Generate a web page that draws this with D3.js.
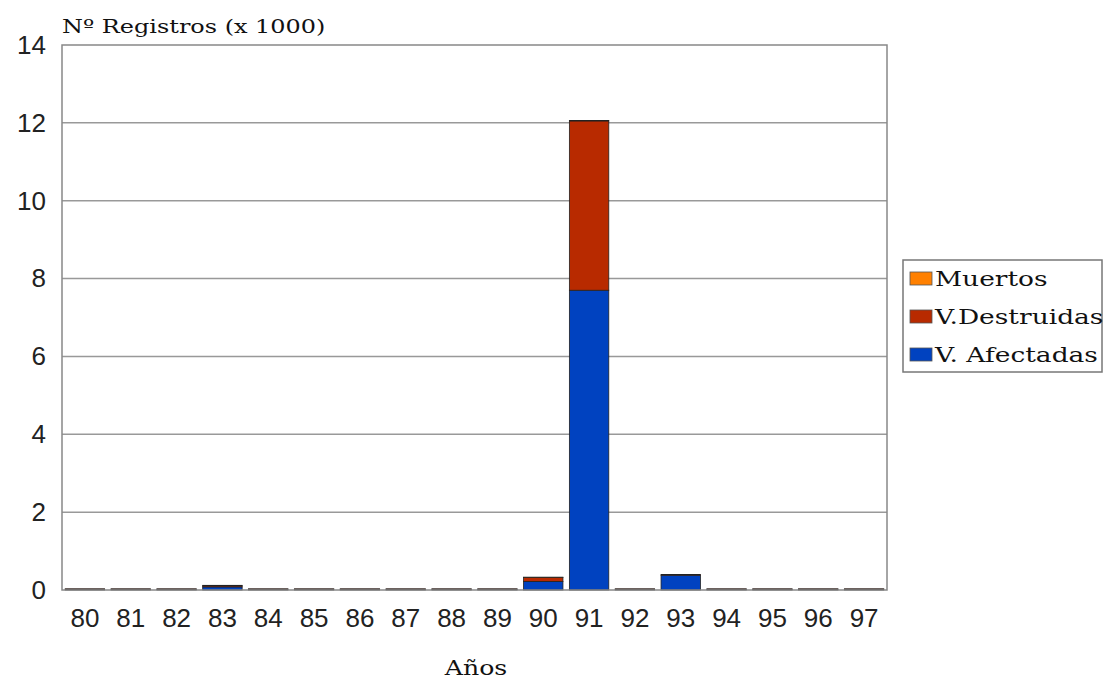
<!DOCTYPE html>
<html>
<head>
<meta charset="utf-8">
<script src="https://cdn.jsdelivr.net/npm/d3@7"></script>
<style>
  body { margin: 0; background: #fff; }
  svg { display: block; }
</style>
</head>
<body>
<svg id="chart" width="1107" height="679"></svg>
<script>
// Registros anuales (en miles) por tipo de daño
const years = ["80","81","82","83","84","85","86","87","88","89","90","91","92","93","94","95","96","97"];
const afectadas  = [0.02, 0.02, 0.02, 0.08, 0.02, 0.02, 0.02, 0.02, 0.02, 0.02, 0.22, 7.7, 0.02, 0.38, 0.02, 0.02, 0.02, 0.02];
const destruidas = [0.01, 0.01, 0.01, 0.03, 0.01, 0.01, 0.01, 0.01, 0.01, 0.01, 0.1, 4.35, 0.01, 0.02, 0.01, 0.01, 0.01, 0.01];
const muertos    = [0.0, 0.0, 0.0, 0.01, 0.0, 0.0, 0.0, 0.0, 0.0, 0.0, 0.01, 0.01, 0.0, 0.0, 0.0, 0.0, 0.0, 0.0];
const yTicks = [0, 2, 4, 6, 8, 10, 12, 14];
const seriesNames = ["Muertos", "V.Destruidas", "V. Afectadas"];
const seriesColors = { "Muertos": "#ff8000", "V.Destruidas": "#b82a00", "V. Afectadas": "#0042c0" };

const rows = years.map((y, i) => ({
  year: y,
  "V. Afectadas": afectadas[i],
  "V.Destruidas": destruidas[i],
  "Muertos": muertos[i]
}));

const svg = d3.select("#chart");
const m = { left: 62, right: 887, top: 45, bottom: 590 };
const serif = "DejaVu Serif, serif";
const sans = "Liberation Sans, Arial, sans-serif";
const serifStretch = 1.26;

// Widen serif labels horizontally
function stretch(sel) {
  sel.each(function () {
    const w = this.getComputedTextLength();
    d3.select(this).attr("textLength", w * serifStretch).attr("lengthAdjust", "spacingAndGlyphs");
  });
}

const x = d3.scaleBand().domain(years).range([m.left, m.right]).paddingInner(0.14).paddingOuter(0.07);
const y = d3.scaleLinear().domain([0, 14]).range([m.bottom, m.top]);

// Grid lines
svg.append("g").selectAll("line").data(yTicks.filter(t => t > 0 && t < 14)).join("line")
  .attr("x1", m.left).attr("x2", m.right)
  .attr("y1", d => y(d)).attr("y2", d => y(d))
  .attr("stroke", "#999").attr("stroke-width", 1.5);

// Stacked bars, bottom to top: Afectadas, Destruidas, Muertos
const stack = d3.stack().keys(["V. Afectadas", "V.Destruidas", "Muertos"]);
const layers = stack(rows);
svg.append("g").selectAll("g").data(layers).join("g")
  .attr("fill", d => seriesColors[d.key])
  .selectAll("rect").data(d => d).join("rect")
  .attr("x", d => x(d.data.year))
  .attr("width", x.bandwidth())
  .attr("y", d => y(d[1]))
  .attr("height", d => Math.max(0, y(d[0]) - y(d[1])))
  .attr("stroke", "#222").attr("stroke-width", 0.8);

// Plot frame
svg.append("rect")
  .attr("x", m.left).attr("y", m.top)
  .attr("width", m.right - m.left).attr("height", m.bottom - m.top)
  .attr("fill", "none").attr("stroke", "#888").attr("stroke-width", 1.5);

// Y axis labels
const yAxis = d3.axisLeft(y).tickValues(yTicks).tickSize(0).tickPadding(16);
const gy = svg.append("g").attr("transform", `translate(${m.left},0)`).call(yAxis);
gy.select(".domain").remove();
gy.selectAll("text").attr("font-family", sans).attr("font-size", 26).attr("fill", "#222");

// X axis labels
const xAxis = d3.axisBottom(x).tickSize(0).tickPadding(19);
const gx = svg.append("g").attr("transform", `translate(0,${m.bottom})`).call(xAxis);
gx.select(".domain").remove();
gx.selectAll("text").attr("font-family", sans).attr("font-size", 26).attr("fill", "#222");

// Titles
svg.append("text").attr("x", 62).attr("y", 33)
  .attr("font-family", serif).attr("font-size", 19).attr("fill", "#111")
  .text("Nº Registros (x 1000)").call(stretch);
svg.append("text").attr("x", 476).attr("y", 675)
  .attr("text-anchor", "middle")
  .attr("font-family", serif).attr("font-size", 20).attr("fill", "#111")
  .text("Años").call(stretch);

// Legend
const lg = svg.append("g");
lg.append("rect").attr("x", 903).attr("y", 260).attr("width", 199).attr("height", 112)
  .attr("fill", "#fff").attr("stroke", "#777").attr("stroke-width", 1.5);
const lItems = lg.selectAll("g").data(seriesNames).join("g")
  .attr("transform", (d, i) => `translate(910,${279 + i * 38})`);
lItems.append("rect").attr("x", 0).attr("y", -7).attr("width", 22).attr("height", 13)
  .attr("fill", d => seriesColors[d]).attr("stroke", "#555").attr("stroke-width", 0.8);
lItems.append("text").attr("x", 25).attr("y", 7)
  .attr("font-family", serif).attr("font-size", 21).attr("fill", "#111")
  .text(d => d).call(stretch);
</script>
</body>
</html>
